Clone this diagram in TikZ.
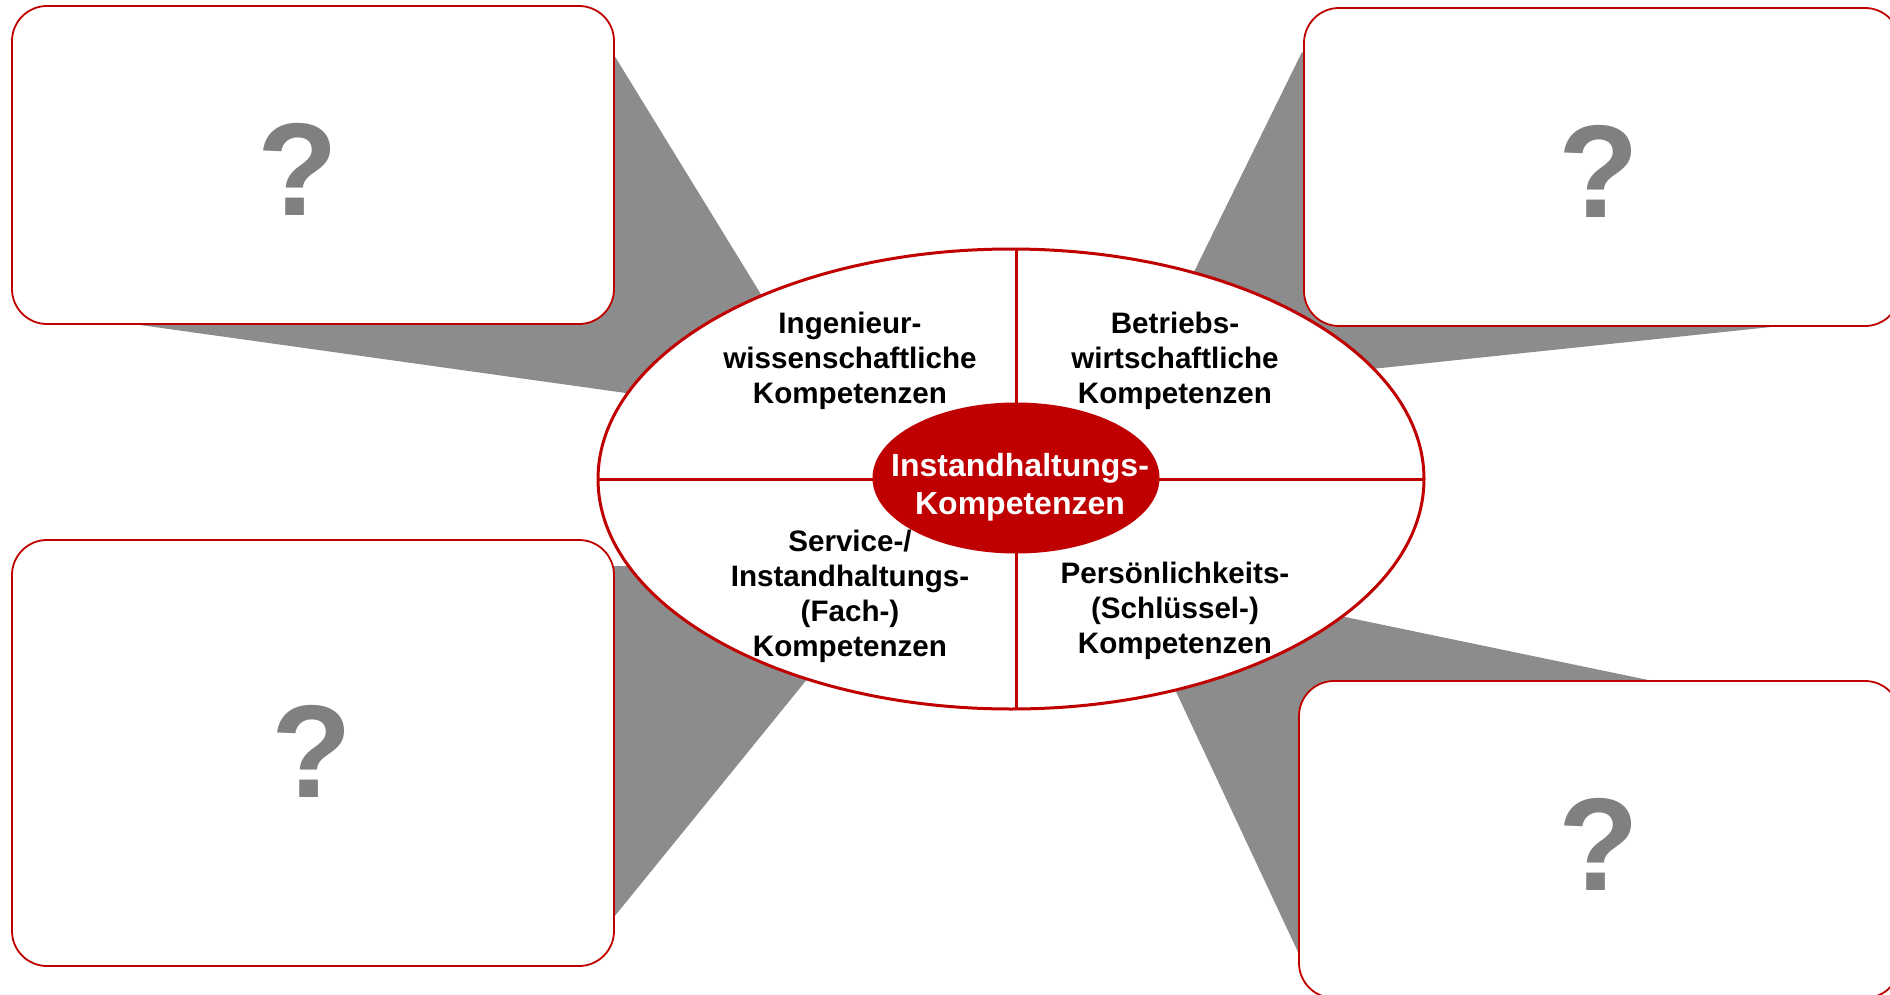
\documentclass[tikz,border=0pt]{standalone}
\usepackage{fontspec}
\setmainfont{Liberation Sans}
\usetikzlibrary{shapes.geometric}
\definecolor{kred}{RGB}{192,0,0}
\definecolor{wedgegray}{RGB}{140,140,140}
\definecolor{qgray}{RGB}{128,128,128}
\begin{document}
\begin{tikzpicture}[x=0.5pt,y=-0.5pt,
  qbox/.style={draw=kred, line width=0.9pt, fill=white, rounded corners=17.5pt, inner sep=0pt, outer sep=0pt},
  qmark/.style={inner sep=0pt, text=qgray, font=\fontsize{66}{70}\selectfont\bfseries},
  wedge/.style={fill=wedgegray, draw=none},
  bigell/.style={ellipse, draw=kred, line width=1.5pt, fill=white, inner sep=0pt, outer sep=0pt, minimum width=413pt, minimum height=230pt},
  coreell/.style={ellipse, fill=kred, draw=none, inner sep=0pt, minimum width=143.5pt, minimum height=75.5pt},
  coretext/.style={text=white, align=center, inner sep=0pt, font=\fontsize{16}{19}\selectfont\bfseries},
  divider/.style={draw=kred, line width=1.5pt},
  lbl/.style={align=center, inner sep=0pt, font=\fontsize{14.8}{17.5}\selectfont\bfseries}]
\useasboundingbox (0,0) rectangle (1890,995);
\clip (0,0) rectangle (1890,995);
% apex points of the grey wedges (hidden behind the ellipse)
\coordinate (a1) at (840,423);
\coordinate (a2) at (1134,394);
\coordinate (a3) at (899,566);
\coordinate (a4) at (1119,570);
\fill[wedge] (614,55) -- (a1) -- (133,324) -- (400,200) -- cycle;
\fill[wedge] (1302,52) -- (a2) -- (1771,327) -- (1500,200) -- cycle;
\fill[wedge] (500,566) -- (a3) -- (614,917) -- (500,800) -- cycle;
\fill[wedge] (1653,681) -- (a4) -- (1298,952) -- (1500,900) -- cycle;
% boxes
\node[qbox, minimum width=301pt, minimum height=159pt] (b1) at (313,165) {};
\node[qbox, minimum width=298pt, minimum height=159pt] (b2) at (1602,167) {};
\node[qbox, minimum width=301pt, minimum height=213pt] (b3) at (313,753) {};
\node[qbox, minimum width=300.5pt, minimum height=158.5pt] (b4) at (1599.5,839.5) {};
\node[qmark] (q1) at (298,169) {?};
\node[qmark] (q2) at (1599,171) {?};
\node[qmark] (q3) at (312,751) {?};
\node[qmark] (q4) at (1599,844) {?};
% big ellipse
\node[bigell] (E) at (1011,479) {};
\begin{scope}
\path[clip] (1011,479) ellipse [x radius=206.5pt, y radius=115pt];
\draw[divider] (1016,200) -- (1016,760);
\draw[divider] (550,479) -- (1450,479);
\end{scope}
\node[coreell] (C) at (1016,478) {};
\node[coretext] (ct) at (1020,487) {Instandhaltungs-\\Kompetenzen};
\node[lbl] (t1) at (850,361) {Ingenieur-\\wissenschaftliche\\Kompetenzen};
\node[lbl] (t2) at (1175,361) {Betriebs-\\wirtschaftliche\\Kompetenzen};
\node[lbl] (t3) at (850,596) {Service-/\\Instandhaltungs-\\(Fach-)\\Kompetenzen};
\node[lbl] (t4) at (1175,611) {Persönlichkeits-\\(Schlüssel-)\\Kompetenzen};
\end{tikzpicture}
\end{document}
